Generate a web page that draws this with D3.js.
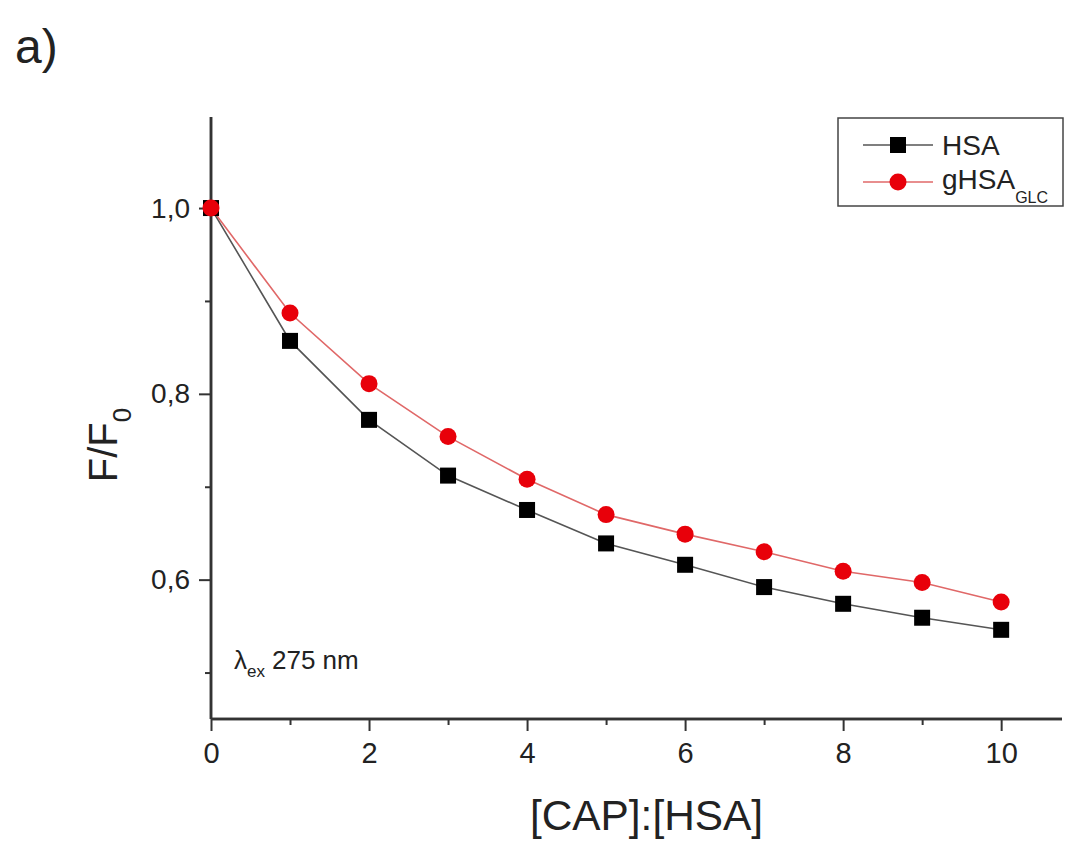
<!DOCTYPE html>
<html><head><meta charset="utf-8">
<script src="https://cdn.jsdelivr.net/npm/d3@7"></script>
<style>body{margin:0;background:#fff}svg{display:block}text{font-family:"Liberation Sans",Arial,sans-serif;fill:#222}</style>
</head><body><svg id="c" width="1076" height="842"></svg>
<script>
const ratio = [0,1,2,3,4,5,6,7,8,9,10];
const hsa  = [1.0,0.857,0.772,0.712,0.675,0.639,0.616,0.592,0.574,0.559,0.546];
const ghsa = [1.0,0.887,0.811,0.754,0.708,0.670,0.649,0.630,0.609,0.597,0.576];
const xTicks = [0,2,4,6,8,10];
const xMinor = [1,3,5,7,9];
const yTicks = [0.6,0.8,1.0];
const yMinor = [0.5,0.7,0.9];

const svg = d3.select("#c");
const L=211, R=1062, T=117, B=719;
const x = d3.scaleLinear().domain([0,10.77]).range([L,R]);
const y = d3.scaleLinear().domain([0.45,1.098]).range([B,T]);
const fmt = d => d3.format(".1f")(d).replace(".",",");
const axCol="#333";

// y axis
const gy = svg.append("g").attr("transform",`translate(${L},0)`)
  .call(d3.axisLeft(y).tickValues(yTicks).tickFormat(fmt).tickSize(12).tickPadding(9));
gy.append("g").call(d3.axisLeft(y).tickValues(yMinor).tickFormat("").tickSize(6));
// x axis
const gx = svg.append("g").attr("transform",`translate(0,${B})`)
  .call(d3.axisBottom(x).tickValues(xTicks).tickSize(12).tickPadding(11));
gx.append("g").call(d3.axisBottom(x).tickValues(xMinor).tickFormat("").tickSize(6));
svg.selectAll(".domain").attr("stroke",axCol).attr("stroke-width",2.5);
svg.selectAll(".tick line").attr("stroke",axCol).attr("stroke-width",2);
gx.selectAll(".domain").attr("d",`M${L},0H${R}`);
gy.selectAll(".domain").attr("d",`M0,${T}V${B}`);
gy.selectAll(".tick text").style("font-size","28px").attr("fill","#222");
gx.selectAll(".tick text").style("font-size","29px").attr("fill","#222");

// lines
const line = v => d3.line().x((d,i)=>x(ratio[i])).y(d=>y(d))(v);
svg.append("path").attr("d",line(hsa)).attr("fill","none").attr("stroke","#555").attr("stroke-width",1.6);
svg.append("path").attr("d",line(ghsa)).attr("fill","none").attr("stroke","#e06868").attr("stroke-width",1.6);

svg.append("g").selectAll("rect").data(hsa).join("rect")
  .attr("x",(d,i)=>x(ratio[i])-8).attr("y",d=>y(d)-8).attr("width",16).attr("height",16).attr("fill","#000");
svg.append("g").selectAll("circle").data(ghsa).join("circle")
  .attr("cx",(d,i)=>x(ratio[i])).attr("cy",d=>y(d)).attr("r",8.5).attr("fill","#e8000a");

// legend
const lg = svg.append("g");
lg.append("rect").attr("x",838).attr("y",118).attr("width",225).attr("height",88).attr("fill","#fff").attr("stroke","#444").attr("stroke-width",1.5);
lg.append("line").attr("x1",863).attr("x2",933).attr("y1",145).attr("y2",145).attr("stroke","#555").attr("stroke-width",1.6);
lg.append("rect").attr("x",890).attr("y",137).attr("width",16).attr("height",16).attr("fill","#000");
lg.append("text").attr("x",942).attr("y",155).style("font-size","28px").text("HSA");
lg.append("line").attr("x1",863).attr("x2",933).attr("y1",182).attr("y2",182).attr("stroke","#e06868").attr("stroke-width",1.6);
lg.append("circle").attr("cx",898).attr("cy",182).attr("r",8.5).attr("fill","#e8000a");
const t2 = lg.append("text").attr("x",942).attr("y",189).style("font-size","28px");
t2.append("tspan").text("gHSA");
t2.append("tspan").attr("dy",14).style("font-size","16px").text("GLC");

// annotation
const an = svg.append("text").attr("x",234).attr("y",669).style("font-size","26px");
an.append("tspan").text("λ");
an.append("tspan").attr("dy",8).style("font-size","17px").text("ex");
an.append("tspan").attr("dy",-8).attr("dx",7).text("275 nm");

// axis titles
const yl = svg.append("text").attr("transform","translate(117,445) rotate(-90)").attr("text-anchor","middle").style("font-size","40px");
yl.append("tspan").text("F/F");
yl.append("tspan").attr("dy",14).style("font-size","26px").text("0");
svg.append("text").attr("x",530).attr("y",830).attr("textLength",233).attr("lengthAdjust","spacingAndGlyphs")
  .style("font-size","43px").text("[CAP]:[HSA]");
svg.append("text").attr("x",15).attr("y",63).style("font-size","48px").text("a)");
</script></body></html>
